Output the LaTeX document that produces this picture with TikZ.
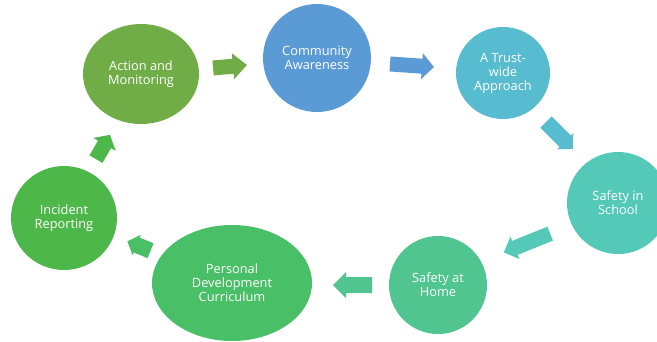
\documentclass[tikz,border=0pt]{standalone}
\usepackage{fontspec}
\setmainfont{Open Sans}
\usetikzlibrary{shapes.geometric}
\definecolor{cAct}{HTML}{70AD47}
\definecolor{cCom}{HTML}{5B9BD5}
\definecolor{cTru}{HTML}{58BCD0}
\definecolor{cSch}{HTML}{54C9B7}
\definecolor{cHom}{HTML}{50C58F}
\definecolor{cPer}{HTML}{49BF67}
\definecolor{cInc}{HTML}{4DB849}
\tikzset{
  stage/.style={ellipse, inner sep=0pt, align=center, text=white,
    font=\fontsize{12.8}{14}\selectfont},
}
% #1 colour, #2 centre, #3 angle, #4 length, #5 shaft width, #6 head width, #7 head length
\newcommand\blockarrow[7]{%
  \fill[#1, shift={#2}, rotate=#3]
    ({-#4/2},{-#5/2}) -- ({#4/2-#7},{-#5/2}) -- ({#4/2-#7},{-#6/2}) --
    ({#4/2},0) -- ({#4/2-#7},{#6/2}) -- ({#4/2-#7},{#5/2}) --
    ({-#4/2},{#5/2}) -- cycle;}
\begin{document}
\begin{tikzpicture}[x=1pt,y=1pt]
\useasboundingbox (0,0) rectangle (657,-341);
\fill[white] (0,0) rectangle (657,-341);
\node[stage, fill=cAct, minimum width=116pt, minimum height=100pt] (act) at (141,-74) {Action and\\Monitoring};
\node[stage, fill=cCom, minimum width=108pt, minimum height=108pt] (com) at (317,-58) {Community\\Awareness};
\node[stage, fill=cTru, minimum width=94pt, minimum height=92pt] (tru) at (503,-73) {A Trust-\\wide\\Approach};
\node[stage, fill=cSch, minimum width=102pt, minimum height=102pt] (sch) at (618,-203) {Safety in\\School};
\node[stage, fill=cHom, minimum width=98pt, minimum height=98pt] (hom) at (438,-285) {Safety at\\Home};
\node[stage, fill=cPer, minimum width=160pt, minimum height=116pt] (per) at (232,-283) {Personal\\Development\\Curriculum};
\node[stage, fill=cInc, minimum width=106pt, minimum height=104pt] (inc) at (64,-218) {Incident\\Reporting};
\blockarrow{cAct}{(230,-66.5)}{5}{34}{15}{26}{14}
\blockarrow{cCom}{(412,-65.5)}{-4}{44}{15}{26}{12}
\blockarrow{cTru}{(559.5,-135.5)}{-45}{38}{16}{23}{11}
\blockarrow{cSch}{(527,-243)}{202}{50}{15}{24}{12}
\blockarrow{cHom}{(352.5,-285)}{180}{39}{16}{26}{13}
\blockarrow{cPer}{(139,-246)}{158}{25}{16}{22}{10}
\blockarrow{cInc}{(103,-147)}{60}{28}{15}{26}{11}
\end{tikzpicture}
\end{document}
